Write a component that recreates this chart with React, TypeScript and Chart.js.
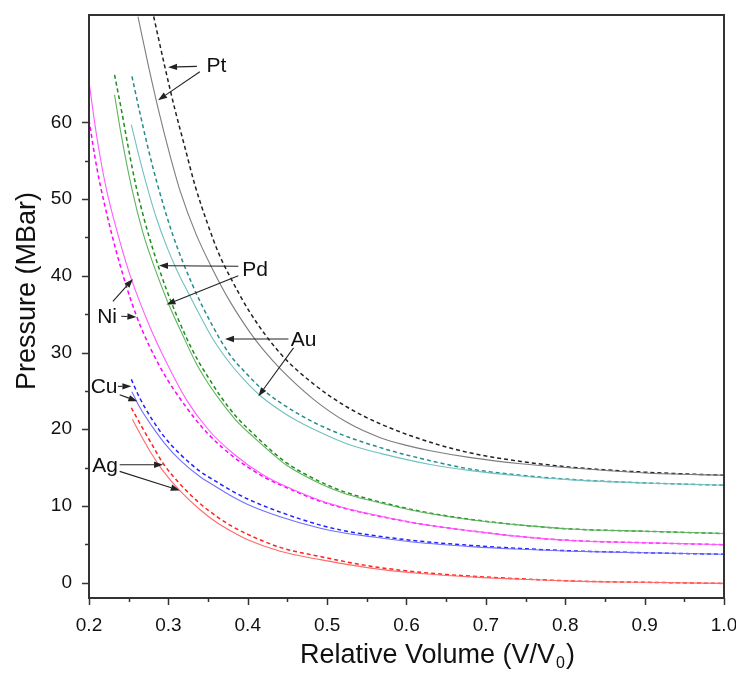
import React, { useEffect, useRef } from 'react';
import { Chart, registerables } from 'chart.js';

Chart.register(...registerables);

// ---------- axis ticks ----------
const X_TICKS = [0.2, 0.25, 0.3, 0.35, 0.4, 0.45, 0.5, 0.55, 0.6, 0.65, 0.7, 0.75, 0.8, 0.85, 0.9, 0.95, 1.0];
const X_TICK_LABELS = ['0.2', '', '0.3', '', '0.4', '', '0.5', '', '0.6', '', '0.7', '', '0.8', '', '0.9', '', '1.0'];
const Y_TICKS = [0, 5, 10, 15, 20, 25, 30, 35, 40, 45, 50, 55, 60];
const Y_TICK_LABELS = ['0', '', '10', '', '20', '', '30', '', '40', '', '50', '', '60'];

// ---------- series (relative volume, pressure MBar) ----------
const PT_SOLID = [[0.2617, 73.8], [0.275, 67.3], [0.2885, 61.2], [0.3018, 55.8], [0.315, 51.0], [0.335, 45.4], [0.355, 41.0], [0.3779, 36.6], [0.403, 32.6], [0.42, 30.3], [0.4408, 27.9], [0.4829, 23.9], [0.525, 20.9], [0.567, 18.9], [0.6, 17.9], [0.63, 17.2], [0.681, 16.3], [0.744, 15.5], [0.8075, 14.95], [0.9, 14.3], [1.0, 14.0]];
const PT_DASH = [[0.2815, 73.8], [0.295, 67.5], [0.308, 61.8], [0.3207, 56.8], [0.3335, 51.8], [0.35, 46.6], [0.3635, 42.9], [0.3776, 39.9], [0.403, 35.2], [0.4408, 29.9], [0.4829, 25.9], [0.525, 22.9], [0.567, 20.7], [0.63, 18.3], [0.681, 16.9], [0.744, 15.8], [0.8075, 15.05], [0.9, 14.4], [1.0, 14.0]];
const AU_SOLID = [[0.2533, 59.7], [0.262, 56.0], [0.2735, 51.5], [0.285, 47.5], [0.2976, 43.9], [0.31, 40.9], [0.3229, 38.2], [0.34, 34.8], [0.3565, 31.7], [0.3776, 28.6], [0.395, 26.5], [0.4155, 24.4], [0.44, 22.5], [0.462, 21.1], [0.504, 19.0], [0.535, 17.75], [0.567, 16.85], [0.63, 15.4], [0.681, 14.6], [0.7443, 13.9], [0.8075, 13.4], [0.9, 13.0], [1.0, 12.7]];
const AU_DASH = [[0.2541, 66.0], [0.2638, 61.4], [0.2743, 56.7], [0.286, 52.0], [0.306, 45.2], [0.33, 38.9], [0.355, 33.6], [0.3776, 29.7], [0.397, 27.4], [0.4197, 25.1], [0.462, 22.1], [0.504, 19.9], [0.567, 17.6], [0.63, 15.9], [0.681, 14.8], [0.7443, 14.0], [0.8075, 13.45], [0.9, 13.0], [1.0, 12.7]];
const PD_SOLID = [[0.2322, 63.6], [0.2407, 58.3], [0.2543, 51.2], [0.268, 45.6], [0.2828, 41.0], [0.2996, 36.5], [0.317, 32.5], [0.3355, 28.5], [0.35, 26.0], [0.365, 23.8], [0.385, 21.2], [0.407, 19.0], [0.43, 16.9], [0.449, 15.3], [0.4914, 12.9], [0.52, 11.7], [0.5546, 10.7], [0.6178, 9.2], [0.681, 8.2], [0.7443, 7.5], [0.8075, 7.0], [0.9, 6.7], [1.0, 6.4]];
const PD_DASH = [[0.2322, 66.2], [0.2407, 61.7], [0.249, 57.0], [0.259, 51.8], [0.27, 47.2], [0.2807, 43.4], [0.2976, 38.2], [0.3229, 31.9], [0.3376, 28.9], [0.35, 26.8], [0.365, 24.4], [0.385, 21.7], [0.407, 19.4], [0.43, 17.2], [0.449, 15.6], [0.4914, 13.15], [0.52, 11.9], [0.5546, 10.85], [0.6178, 9.3], [0.681, 8.25], [0.7443, 7.5], [0.8075, 7.0], [0.9, 6.7], [1.0, 6.4]];
const NI_SOLID = [[0.2, 65.3], [0.21, 58.0], [0.2217, 51.4], [0.2386, 44.6], [0.2533, 39.6], [0.2765, 33.4], [0.2976, 28.7], [0.323, 23.8], [0.35, 20.0], [0.382, 16.8], [0.42, 14.0], [0.46, 12.0], [0.4914, 10.7], [0.52, 9.8], [0.5546, 8.95], [0.6178, 7.65], [0.681, 6.75], [0.7443, 6.0], [0.8075, 5.5], [0.9, 5.2], [1.0, 4.95]];
const NI_DASH = [[0.2, 60.3], [0.21, 54.0], [0.2196, 49.3], [0.2386, 41.6], [0.2597, 34.8], [0.2891, 28.2], [0.323, 22.8], [0.35, 19.4], [0.382, 16.4], [0.42, 13.8], [0.46, 11.9], [0.4914, 10.6], [0.52, 9.75], [0.5546, 8.9], [0.6178, 7.65], [0.681, 6.75], [0.7443, 6.0], [0.8075, 5.5], [0.9, 5.2], [1.0, 4.95]];
const CU_SOLID = [[0.254, 24.9], [0.2638, 22.9], [0.28, 20.3], [0.295, 18.2], [0.3144, 16.0], [0.34, 13.8], [0.36, 12.5], [0.3776, 11.4], [0.4, 10.2], [0.4408, 8.6], [0.4914, 7.1], [0.52, 6.5], [0.5546, 6.0], [0.6178, 5.2], [0.681, 4.7], [0.7443, 4.35], [0.8075, 4.1], [0.9, 3.9], [1.0, 3.7]];
const CU_DASH = [[0.2533, 26.5], [0.2638, 24.1], [0.28, 21.2], [0.295, 19.0], [0.3144, 16.8], [0.34, 14.5], [0.36, 13.2], [0.3776, 12.1], [0.4, 10.9], [0.4408, 9.2], [0.4914, 7.5], [0.52, 6.8], [0.5546, 6.2], [0.6178, 5.4], [0.681, 4.85], [0.7443, 4.45], [0.8075, 4.15], [0.9, 3.9], [1.0, 3.7]];
const AG_SOLID = [[0.2546, 21.3], [0.265, 19.3], [0.28, 16.6], [0.293, 14.6], [0.3144, 12.0], [0.34, 9.5], [0.36, 7.9], [0.3776, 6.8], [0.4, 5.6], [0.4408, 4.1], [0.4914, 3.0], [0.5546, 1.9], [0.6178, 1.2], [0.681, 0.75], [0.7443, 0.45], [0.8075, 0.2], [0.9, 0.05], [1.0, -0.1]];
const AG_DASH = [[0.2533, 22.8], [0.265, 20.6], [0.28, 17.9], [0.293, 15.6], [0.3144, 12.9], [0.34, 10.3], [0.36, 8.7], [0.3776, 7.5], [0.4, 6.3], [0.4408, 4.6], [0.4914, 3.4], [0.5546, 2.15], [0.6178, 1.35], [0.681, 0.85], [0.7443, 0.5], [0.8075, 0.22], [0.9, 0.05], [1.0, -0.1]];

// ---------- annotations (data coordinates) ----------
const LABEL_TEXT = ['Pt', 'Pd', 'Au', 'Ni', 'Cu', 'Ag'];
const LABEL_X = [0.3605, 0.4092, 0.4703, 0.2228, 0.219, 0.2202];
const LABEL_BASE_P = [66.6, 39.93, 30.8, 33.86, 24.73, 14.47];
// [fromX, fromP, tipX, tipP]
const ARROWS = [
  [0.3359, 67.3, 0.2996, 67.2],
  [0.3397, 66.6, 0.287, 62.9],
  [0.3881, 41.24, 0.2882, 41.33],
  [0.3881, 40.0, 0.2976, 36.25],
  [0.4513, 31.77, 0.3713, 31.77],
  [0.4577, 30.6, 0.4134, 24.29],
  [0.2301, 36.68, 0.2554, 39.6],
  [0.2407, 34.72, 0.2597, 34.64],
  [0.2364, 25.59, 0.2534, 25.59],
  [0.2386, 24.51, 0.2609, 23.64],
  [0.2386, 15.38, 0.2933, 15.38],
  [0.2386, 14.51, 0.3144, 12.03],
];

const FONT = "'Liberation Sans', Arial, Helvetica, sans-serif";

type Pair = number[];
function ds(data: Pair[], color: string, dashed: boolean) {
  return {
    data: data.map(([x, y]) => ({ x, y })),
    borderColor: color,
    borderWidth: dashed ? 1.5 : 1.1,
    borderDash: dashed ? [4, 3] : [],
    pointRadius: 0,
    fill: false,
    cubicInterpolationMode: 'monotone' as const,
  };
}

const decorPlugin = {
  id: 'decor',
  afterDraw(chart: any) {
    const { ctx, chartArea, scales } = chart;
    const xs = scales.x;
    const ys = scales.y;
    ctx.save();
    // frame
    ctx.strokeStyle = '#333';
    ctx.lineWidth = 2;
    ctx.strokeRect(chartArea.left, chartArea.top, chartArea.right - chartArea.left, chartArea.bottom - chartArea.top);
    // tick marks
    ctx.lineWidth = 1.5;
    X_TICKS.forEach((v, i) => {
      const px = Math.round(xs.getPixelForValue(v)) + 0.5;
      const len = X_TICK_LABELS[i] ? 7 : 4;
      ctx.beginPath();
      ctx.moveTo(px, chartArea.bottom);
      ctx.lineTo(px, chartArea.bottom + len);
      ctx.stroke();
    });
    Y_TICKS.forEach((v, i) => {
      const py = Math.round(ys.getPixelForValue(v)) + 0.5;
      const len = Y_TICK_LABELS[i] ? 7 : 4;
      ctx.beginPath();
      ctx.moveTo(chartArea.left, py);
      ctx.lineTo(chartArea.left - len, py);
      ctx.stroke();
    });
    // axis titles
    ctx.fillStyle = '#111';
    ctx.font = `27px ${FONT}`;
    ctx.textBaseline = 'alphabetic';
    ctx.textAlign = 'left';
    const main = 'Relative Volume (V/V';
    const sx = chartArea.left + 211;
    const by = chartArea.bottom + 65;
    ctx.fillText(main, sx, by);
    const w1 = ctx.measureText(main).width;
    ctx.font = `16px ${FONT}`;
    ctx.fillText('0', sx + w1 + 1, by + 5);
    const w2 = ctx.measureText('0').width;
    ctx.font = `27px ${FONT}`;
    ctx.fillText(')', sx + w1 + w2 + 2, by);

    ctx.save();
    ctx.translate(chartArea.left - 54, chartArea.top + 276);
    ctx.rotate(-Math.PI / 2);
    ctx.textAlign = 'center';
    ctx.fillText('Pressure (MBar)', 0, 0);
    ctx.restore();

    // annotations
    ctx.font = `21px ${FONT}`;
    ctx.textAlign = 'center';
    LABEL_TEXT.forEach((t, i) => {
      ctx.fillText(t, xs.getPixelForValue(LABEL_X[i]), ys.getPixelForValue(LABEL_BASE_P[i]));
    });
    ctx.strokeStyle = '#222';
    ctx.fillStyle = '#222';
    ctx.lineWidth = 1.1;
    ARROWS.forEach(([fx, fp, tx, tp]) => {
      const x0 = xs.getPixelForValue(fx);
      const y0 = ys.getPixelForValue(fp);
      const x1 = xs.getPixelForValue(tx);
      const y1 = ys.getPixelForValue(tp);
      const ang = Math.atan2(y1 - y0, x1 - x0);
      const hl = 9;
      const hw = 3.2;
      const bx = x1 - hl * Math.cos(ang);
      const by2 = y1 - hl * Math.sin(ang);
      ctx.beginPath();
      ctx.moveTo(x0, y0);
      ctx.lineTo(bx, by2);
      ctx.stroke();
      ctx.beginPath();
      ctx.moveTo(x1, y1);
      ctx.lineTo(bx + hw * Math.sin(ang), by2 - hw * Math.cos(ang));
      ctx.lineTo(bx - hw * Math.sin(ang), by2 + hw * Math.cos(ang));
      ctx.closePath();
      ctx.fill();
    });
    ctx.restore();
  },
};

export default function App() {
  const ref = useRef<HTMLCanvasElement>(null);
  useEffect(() => {
    if (!ref.current) return;
    const chart = new Chart(ref.current, {
      type: 'line',
      data: {
        datasets: [
          ds(AG_SOLID, '#ff6a6a', false),
          ds(AG_DASH, '#ff2020', true),
          ds(CU_SOLID, '#7070ff', false),
          ds(CU_DASH, '#2020ff', true),
          ds(NI_SOLID, '#ff5cff', false),
          ds(NI_DASH, '#ff00ff', true),
          ds(PD_SOLID, '#5fb55f', false),
          ds(PD_DASH, '#1e8c1e', true),
          ds(AU_SOLID, '#72c0c0', false),
          ds(AU_DASH, '#248c8c', true),
          ds(PT_SOLID, '#7d7d7d', false),
          ds(PT_DASH, '#222222', true),
        ] as any,
      },
      options: {
        responsive: false,
        animation: false,
        devicePixelRatio: 1,
        events: [],
        layout: { padding: { left: 0, right: 12, top: 15, bottom: 0 } },
        plugins: { legend: { display: false }, tooltip: { enabled: false }, title: { display: false } },
        scales: {
          x: {
            type: 'linear',
            min: 0.2,
            max: 1.0,
            grid: { display: false },
            border: { display: false },
            afterFit: (s: any) => { s.height = 75; s.paddingLeft = 0; s.paddingRight = 0; },
            afterBuildTicks: (s: any) => { s.ticks = X_TICKS.map((v) => ({ value: v })); },
            ticks: {
              autoSkip: false,
              maxRotation: 0,
              padding: 8,
              color: '#111',
              font: { family: FONT, size: 19 },
              callback: (_v: any, i: number) => X_TICK_LABELS[i],
            },
          },
          y: {
            type: 'linear',
            min: -2,
            max: 74,
            grid: { display: false },
            border: { display: false },
            afterFit: (s: any) => { s.width = 89; s.paddingTop = 0; s.paddingBottom = 0; },
            afterBuildTicks: (s: any) => { s.ticks = Y_TICKS.map((v) => ({ value: v })); },
            ticks: {
              autoSkip: false,
              padding: 9,
              color: '#111',
              font: { family: FONT, size: 19 },
              callback: (_v: any, i: number) => Y_TICK_LABELS[i],
            },
          },
        },
      },
      plugins: [decorPlugin],
    });
    return () => chart.destroy();
  }, []);
  return (
    <div style={{ position: 'absolute', left: 0, top: 0, width: 736, height: 673, background: '#fff' }}>
      <canvas ref={ref} width={736} height={673} />
    </div>
  );
}
